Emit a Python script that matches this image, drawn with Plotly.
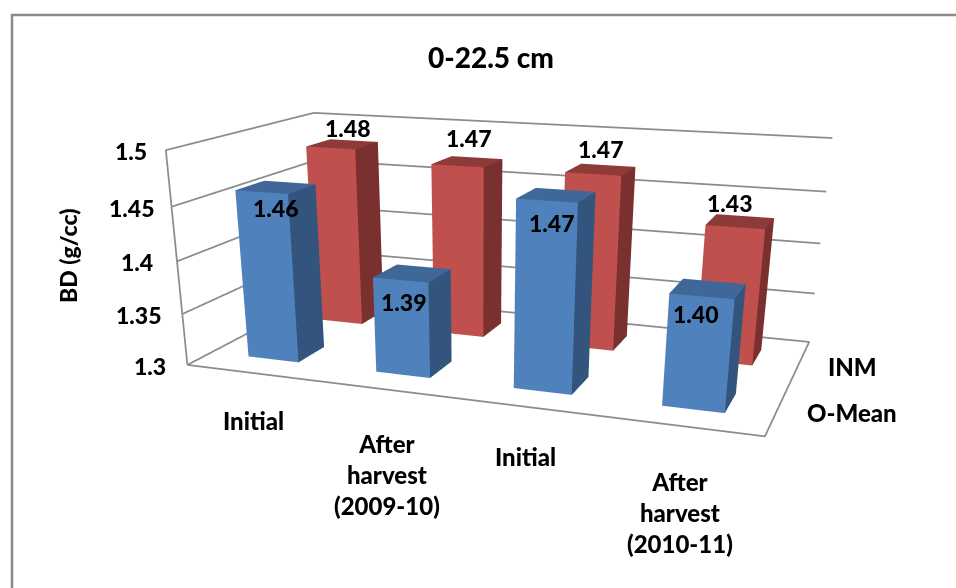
import plotly.graph_objects as go

# Bulk density by sampling stage
categories = ["Initial", "After<br>harvest<br>(2009-10)", "Initial", "After<br>harvest<br>(2010-11)"]
o_mean = [1.46, 1.39, 1.47, 1.40]
inm = [1.48, 1.47, 1.47, 1.43]
z_ticks = [1.3, 1.35, 1.4, 1.45, 1.5]
z_tick_labels = ["1.3", "1.35", "1.4", "1.45", "1.5"]

Z_MIN, Z_MAX = 1.3, 1.5
N_CAT, N_ROW = len(categories), 2
BAR_W, BAR_D = 0.40, 0.38
PAGE_W, PAGE_H = 956, 1046
FONT = "Lato"
GRID = "#8c8c8c"
# The scene box is 1% larger than the drawn frame so edge lines are not clipped by it
PAD = 0.005


def bar_mesh(values, row, front, side, top, name):
    """One mesh of cuboids: front, right and top faces of every bar."""
    xs, ys, zs, i, j, k, colors = [], [], [], [], [], [], []
    for c, v in enumerate(values):
        x0, x1 = c + 0.5 - BAR_W / 2, c + 0.5 + BAR_W / 2
        y0, y1 = row + 0.5 - BAR_D / 2, row + 0.5 + BAR_D / 2
        n = len(xs)
        xs += [x0, x1, x1, x0, x0, x1, x1, x0]
        ys += [y0, y0, y1, y1, y0, y0, y1, y1]
        zs += [Z_MIN] * 4 + [v] * 4
        faces = [(0, 1, 5, front), (0, 5, 4, front),
                 (1, 2, 6, side), (1, 6, 5, side),
                 (4, 5, 6, top), (4, 6, 7, top)]
        for a, b, d, col in faces:
            i.append(n + a); j.append(n + b); k.append(n + d); colors.append(col)
    return go.Mesh3d(x=xs, y=ys, z=zs, i=i, j=j, k=k, facecolor=colors, flatshading=True,
                     lighting=dict(ambient=1, diffuse=0, specular=0, fresnel=0, roughness=1),
                     hoverinfo="skip", name=name, showscale=False)


def frame_line(xs, ys, zs):
    return go.Scatter3d(x=xs, y=ys, z=zs, mode="lines", hoverinfo="skip", showlegend=False,
                        line=dict(color=GRID, width=3.5))


traces = [
    bar_mesh(inm, 1, "#C0504D", "#7A302E", "#8E3A38", "INM"),
    bar_mesh(o_mean, 0, "#4F81BD", "#33547C", "#3F6797", "O-Mean"),
    # floor outline, front-left upright and top edges of the two walls
    frame_line([0, N_CAT, N_CAT, 0, 0], [0, 0, N_ROW, N_ROW, 0], [Z_MIN] * 5),
    frame_line([0, 0, 0, N_CAT], [0, 0, N_ROW, N_ROW], [Z_MIN, Z_MAX, Z_MAX, Z_MAX]),
]
# horizontal gridlines running along the left and back walls
for t in z_ticks[1:-1]:
    traces.append(frame_line([0, 0, N_CAT], [0, N_ROW, N_ROW], [t, t, t]))


def bold(size):
    return dict(family=FONT, size=size, color="black", weight=900)


def scene_text(x, y, z, text, size, dx=0, dy=0):
    return dict(x=x, y=y, z=z, text=text, showarrow=False, font=bold(size),
                xanchor="center", yanchor="middle", xshift=dx, yshift=-dy, align="center")


notes = []
tick_dx = [-37, -43, -40, -40, -35]
for t, lab, dx in zip(z_ticks, z_tick_labels, tick_dx):
    notes.append(scene_text(0, 0, t, lab, 23, dx=dx, dy=1))
blue_shift = [(0, 21), (-8, 29), (-4, 28), (-12, 25)]
for c, (v, (dx, dy)) in enumerate(zip(o_mean, blue_shift)):
    notes.append(scene_text(c + 0.5, 0.5, v, f"{v:.2f}", 23, dx=dx, dy=dy))
red_shift = [(6, -16), (2, -24), (0, -21), (-10, -19)]
for c, (v, (dx, dy)) in enumerate(zip(inm, red_shift)):
    notes.append(scene_text(c + 0.5, 1.5, v, f"{v:.2f}", 23, dx=dx, dy=dy))
cat_shift = [(3, 48), (4, 85), (-1, 50), (-2, 86)]
for c, (lab, (dx, dy)) in enumerate(zip(categories, cat_shift)):
    notes.append(scene_text(c + 0.5, 0, Z_MIN, lab, 24, dx=dx, dy=dy))
notes.append(scene_text(N_CAT, 0.5, Z_MIN, "O-Mean", 24, dx=74, dy=4))
notes.append(scene_text(N_CAT, 1.5, Z_MIN, "INM", 24, dx=53, dy=4))

hidden = dict(showgrid=False, showline=False, zeroline=False, showticklabels=False, ticks="",
              showbackground=False, showspikes=False, title=dict(text=""))


def padded(lo, hi):
    span = hi - lo
    return [lo - PAD * span, hi + PAD * span]


GROW = 1 + 2 * PAD
fig = go.Figure(traces)
fig.update_layout(
    width=PAGE_W, height=PAGE_H, autosize=False,
    margin=dict(l=0, r=0, t=0, b=0), paper_bgcolor="white", showlegend=False,
    scene=dict(
        domain=dict(x=[0, 1], y=[0, 1]),
        aspectmode="manual", aspectratio=dict(x=1.485 * GROW, y=0.775 * GROW, z=0.54 * GROW),
        camera=dict(eye=dict(x=1.065, y=-3.071, z=0.73),
                    center=dict(x=0.1115, y=-0.519, z=-0.527),
                    up=dict(x=0, y=0, z=1)),
        xaxis=dict(hidden, range=padded(0, N_CAT)),
        yaxis=dict(hidden, range=padded(0, N_ROW)),
        zaxis=dict(hidden, range=padded(Z_MIN, Z_MAX), tickvals=z_ticks),
        annotations=notes,
    ),
    shapes=[dict(type="rect", xref="paper", yref="paper", x0=12 / PAGE_W, x1=1.1,
                 y0=-0.1, y1=1 - 15 / PAGE_H, line=dict(color="#8a8a8a", width=2.5),
                 fillcolor="rgba(0,0,0,0)")],
    annotations=[
        dict(xref="paper", yref="paper", x=491 / PAGE_W, y=1 - 57 / PAGE_H, text="0-22.5 cm",
             showarrow=False, font=bold(28), xanchor="center", yanchor="middle"),
        dict(xref="paper", yref="paper", x=68 / PAGE_W, y=1 - 256 / PAGE_H, text="BD (g/cc)",
             showarrow=False, font=bold(23), textangle=-90, xanchor="center", yanchor="middle"),
    ],
)

fig.write_html("out.html", post_script="document.body.style.overflow='hidden';document.documentElement.style.overflow='hidden';")
